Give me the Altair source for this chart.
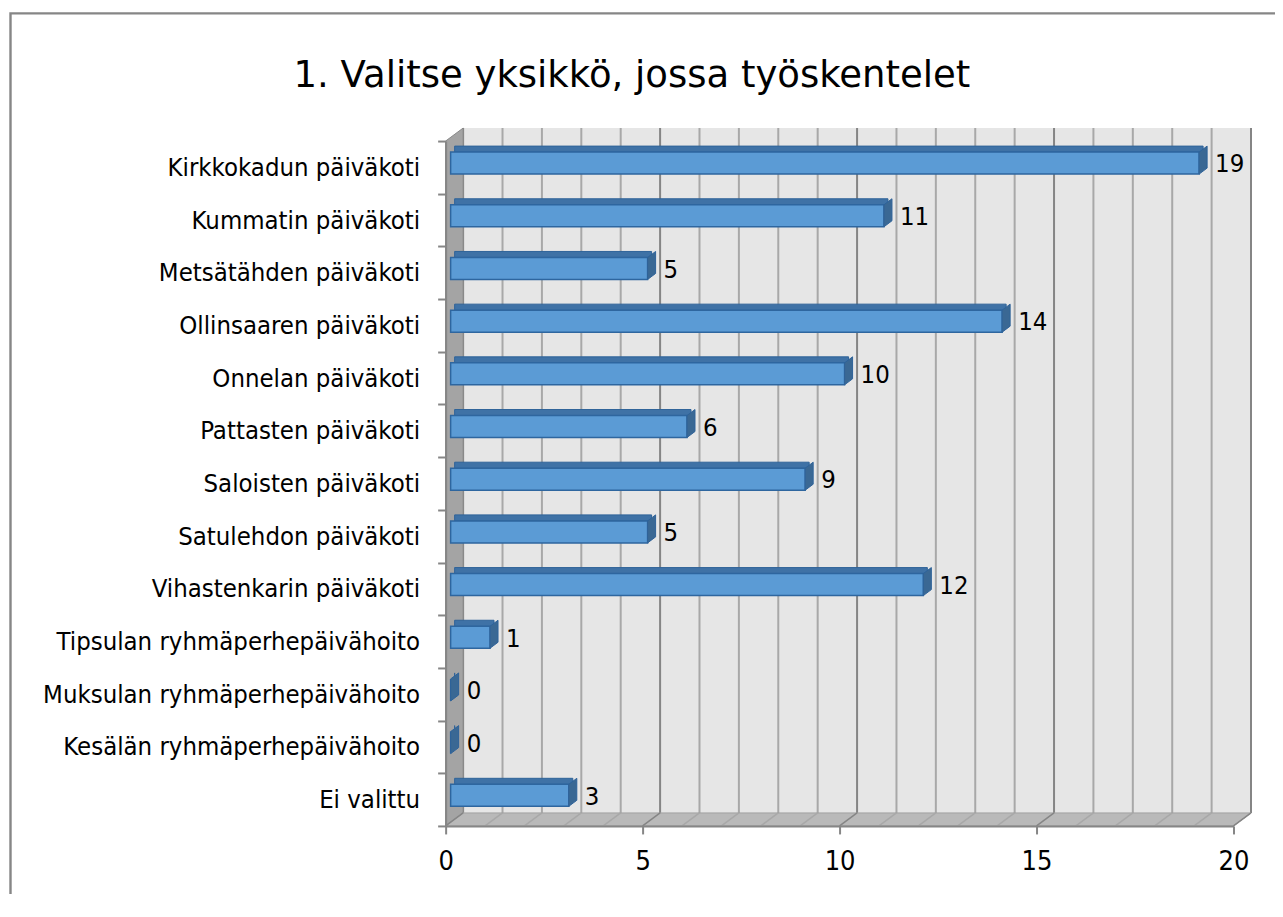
import altair as alt
import pandas as pd

title_text = "1. Valitse yksikkö, jossa työskentelet"
categories = [
    "Kirkkokadun päiväkoti",
    "Kummatin päiväkoti",
    "Metsätähden päiväkoti",
    "Ollinsaaren päiväkoti",
    "Onnelan päiväkoti",
    "Pattasten päiväkoti",
    "Saloisten päiväkoti",
    "Satulehdon päiväkoti",
    "Vihastenkarin päiväkoti",
    "Tipsulan ryhmäperhepäivähoito",
    "Muksulan ryhmäperhepäivähoito",
    "Kesälän ryhmäperhepäivähoito",
    "Ei valittu",
]
counts = [19, 11, 5, 14, 10, 6, 9, 5, 12, 1, 0, 0, 3]
x_ticks = [0, 5, 10, 15, 20]
grid_values = list(range(0, 21))

# ---- geometry / style (not data) ----
FONT = "'DejaVu Sans Condensed', 'DejaVu Sans'"
TITLE_FONT = "DejaVu Sans"
FRONT_W = 788          # pixel span of the front plane (0..20)
DX, DY = 17.5, 13      # depth of the 3-D box
H = 698                # view height (front bottom)
W = FRONT_W + DX
BAR_X = 5              # shift of bar front face into the box
BAR_H = 22
BAR_SHIFT = -4.3
BDX, BDY = 8, 6        # bar depth
PAD_L, PAD_T = 437.7, 120

df = pd.DataFrame({"cat": categories, "count": counts})
grid_df = pd.DataFrame({"v": grid_values})
box_df = pd.DataFrame({"x0": [0], "x1": [20]})
one = pd.DataFrame({"t": [title_text]})

xs = alt.Scale(domain=[0, 20], range=[0, FRONT_W], nice=False, zero=False)
ys = alt.Scale(domain=categories, range=[DY, H], paddingInner=0, paddingOuter=0)

x_axis = alt.Axis(
    values=x_ticks, grid=False, title=None, format="d",
    domainColor="#868686", domainWidth=2,
    tickColor="#868686", tickWidth=2, tickSize=8,
    labelFont=FONT, labelFontSize=27, labelColor="#000000",
    labelPadding=15, labelFlush=False, labelOverlap=False, zindex=1,
)
y_axis = alt.Axis(
    title=None, tickBand="extent",
    domainColor="#868686", domainWidth=2,
    tickColor="#868686", tickWidth=2, tickSize=8,
    labelFont=FONT, labelFontSize=25.5, labelColor="#000000",
    labelPadding=18, labelLimit=0, labelOverlap=False, zindex=1,
)

grid_color = alt.condition("datum.v % 5 == 0", alt.value("#858585"), alt.value("#a8a8a8"))

border = alt.Chart(one).mark_rect(filled=False, stroke="#868686", strokeWidth=2.4).encode(
    x=alt.value(10.5 - 8 - PAD_L), x2=alt.value(W + 300),
    y=alt.value(13.3 - 8 - PAD_T), y2=alt.value(H + 300),
)

title = alt.Chart(one).mark_text(
    font=TITLE_FONT, fontSize=37, align="center", baseline="middle", color="#000000"
).encode(text="t:N", x=alt.value(632 - 8 - PAD_L), y=alt.value(76 - 8 - PAD_T))

back_wall = alt.Chart(box_df).mark_rect(
    xOffset=DX, x2Offset=DX, fill="#e6e6e6"
).encode(
    x=alt.X("x0:Q", scale=xs, axis=x_axis), x2="x1:Q",
    y=alt.value(0), y2=alt.value(H - DY),
)

grid = alt.Chart(grid_df).mark_rule(xOffset=DX, strokeWidth=2).encode(
    x=alt.X("v:Q", scale=xs, axis=x_axis),
    y=alt.value(0), y2=alt.value(H - DY),
    stroke=grid_color,
)

left_wall_path = f"M0,{DY} L{DX},0 L{DX},{H - DY} L0,{H} Z"
left_wall = alt.Chart(one).mark_point(
    shape=left_wall_path, size=4, filled=True, fill="#a4a4a4",
    stroke="#8a8a8a", strokeWidth=1, opacity=1,
).encode(x=alt.value(0), y=alt.value(0))

floor_path = f"M0,0 L{FRONT_W},0 L{FRONT_W + DX},{-DY} L{DX},{-DY} Z"
floor = alt.Chart(one).mark_point(
    shape=floor_path, size=4, filled=True, fill="#b9b9b9",
    stroke="#a0a0a0", strokeWidth=1, opacity=1,
).encode(x=alt.value(0), y=alt.value(H))

floor_lines = alt.Chart(grid_df).mark_rule(x2Offset=DX, strokeWidth=1.5).encode(
    x=alt.X("v:Q", scale=xs, axis=x_axis), x2="v:Q",
    y=alt.value(H), y2=alt.value(H - DY),
    stroke=grid_color,
)

enc_x = alt.X("count:Q", scale=xs, axis=x_axis)
enc_y = alt.Y("cat:N", scale=ys, sort=categories, axis=y_axis)

top_face = alt.Chart(df).mark_bar(
    size=BDY, yOffset=BAR_SHIFT - BAR_H / 2 - BDY / 2,
    xOffset=BAR_X + BDX / 2, x2Offset=BAR_X + BDX / 2,
    fill="#3f72a6", stroke="#2f6399", strokeWidth=1,
).encode(x=enc_x, y=enc_y)

front_face = alt.Chart(df).mark_bar(
    size=BAR_H, yOffset=BAR_SHIFT, xOffset=BAR_X, x2Offset=BAR_X,
    fill="#5b9bd5", stroke="#2e669f", strokeWidth=1.5,
).encode(x=enc_x, y=enc_y)

t, b = BAR_SHIFT - BAR_H / 2, BAR_SHIFT + BAR_H / 2
side_path = (
    f"M{BAR_X},{t} L{BAR_X + BDX},{t - BDY} "
    f"L{BAR_X + BDX},{b - BDY} L{BAR_X},{b} Z"
)
side_face = alt.Chart(df).mark_point(
    shape=side_path, size=4, filled=True, fill="#3a6894",
    stroke="#2e629a", strokeWidth=1, opacity=1,
).encode(x=enc_x, y=enc_y)

labels = alt.Chart(df).mark_text(
    align="left", baseline="middle", dx=21, dy=-3,
    font=FONT, fontSize=25.5, color="#000000",
).encode(x=enc_x, y=enc_y, text="count:Q")

chart = alt.layer(
    border, title, back_wall, grid, left_wall, floor, floor_lines,
    top_face, front_face, side_face, labels,
).properties(
    width=W, height=H,
    padding={"left": PAD_L, "top": PAD_T, "right": 24, "bottom": 68},
    autosize=alt.AutoSizeParams(type="none"),
    background="#ffffff",
).configure_view(stroke=None)

chart.save("out.html", embed_options={"renderer": "svg", "actions": False})
